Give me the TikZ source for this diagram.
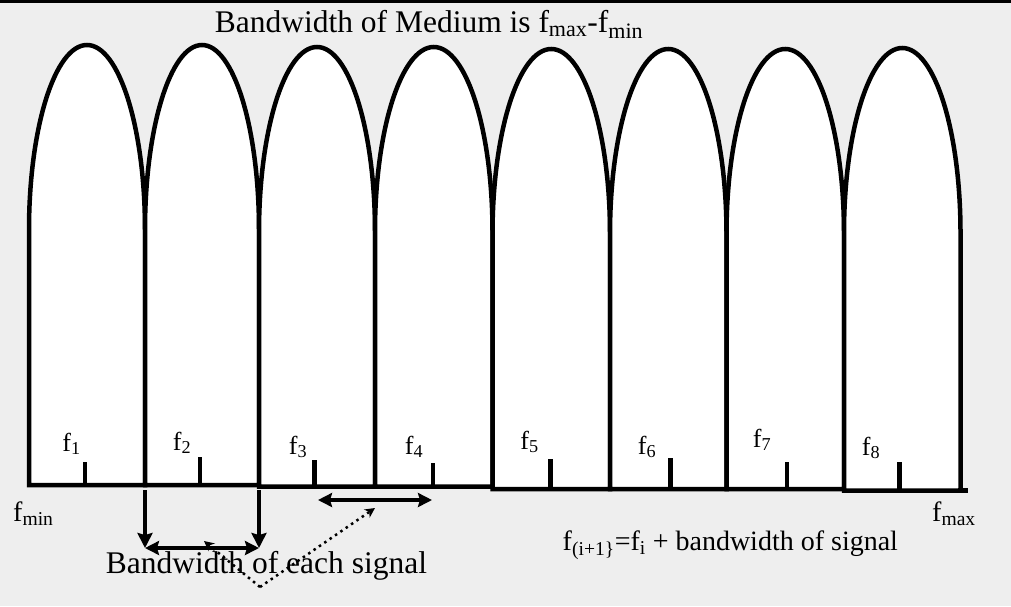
\documentclass[tikz,border=0pt]{standalone}
\usepackage{fontspec}
\setmainfont{Liberation Serif}
\usetikzlibrary{arrows.meta}
\definecolor{fondo}{HTML}{EEEEEE}

\tikzset{
	lobulo/.style={line width=4.5pt, draw=black, fill=white, line join=miter},
	marca/.style={line width=4.5pt},
	flecha/.style={line width=4.5pt, -{Stealth[length=15pt,width=15pt,inset=2pt]}},
	doble/.style={line width=4pt, {Stealth[length=14pt,width=14pt,inset=2pt]}-{Stealth[length=14pt,width=14pt,inset=2pt]}},
	punteada/.style={line width=2.5pt, dash pattern=on 2.5pt off 4pt, -{Stealth[length=10pt,width=10pt]}},
	etiq/.style={inner sep=0pt, anchor=base, font=\fontsize{26}{30}\selectfont},
	texto/.style={inner sep=0pt, font=\fontsize{28}{33}\selectfont},
	grande/.style={inner sep=0pt, anchor=base, font=\fontsize{31.5}{36}\selectfont}
}

\begin{document}
\begin{tikzpicture}[x=1pt,y=-1pt]
		% Fondo y linea superior
		\useasboundingbox (0,0) rectangle (1011,606);
		\fill[fondo] (0,0) rectangle (1011,606);
		\draw[line width=2.7pt] (0,1.3) -- (1011,1.3);
		
		% Lobulos de las senales (izq/der/cima/base/marca/etiqueta)
		\foreach \i/\xl/\xr/\yt/\yb/\tx/\tt/\lx/\ly in {
			1/29/145/45/485/85/462/71.5/451,
			2/145/259/45/485/200/457/182/450,
			3/259/375/47/486.5/314.5/460/298/454,
			4/375/492.5/47/486.5/433/462.5/414/454,
			5/492.5/610/49/489/550.5/459/529.5/449,
			6/610/726.5/49/489/670.5/458/647/454,
			7/726.5/844/49/489/787/461.5/762/447,
			8/844/960.5/48/490.5/899.5/461.5/871/455}{
			\pgfmathsetmacro\r{(\xr-\xl)/2}
			\pgfmathsetmacro\yc{\yt+185}
			\filldraw[lobulo] (\xl,\yb) -- (\xl,\yc)
				arc[start angle=180, end angle=360, x radius=\r, y radius=185]
				-- (\xr,\yb) -- cycle;
			\draw[marca] (\tx,\yb) -- (\tx,\tt);
			\node[etiq] (f\i) at (\lx,\ly) {f\textsubscript{\i}};
		}
		\draw[marca] (958,490.5) -- (968,490.5);
		
		% Flechas del ancho de banda
		\coordinate (b12) at (145,490);
		\coordinate (b23) at (259,490);
		\coordinate (p12) at (145,548);
		\coordinate (p23) at (259,548);
		\draw[flecha] (b12) -- (p12);
		\draw[flecha] (b23) -- (p23);
		\draw[doble] (p12) -- (p23);
		
		\coordinate (d1) at (318,500);
		\coordinate (d2) at (432,500);
		\draw[doble] (d1) -- (d2);
		
		% Lineas punteadas
		\coordinate (v) at (260,587);
		\coordinate (t1) at (204,541);
		\coordinate (t2) at (375,508);
		\draw[punteada] (v) -- (t1);
		\draw[punteada] (v) -- (t2);
		
		% Textos
		\node[grande] (titulo) at (429,32.3) {Bandwidth of Medium is f\textsubscript{max}-f\textsubscript{min}};
		\node[texto, anchor=base west] (fmin) at (13,521.5) {f\textsubscript{min}};
		\node[texto, anchor=base west] (fmax) at (932,521.5) {f\textsubscript{max}};
		\node[texto, anchor=base west] (formula) at (562.5,550) {f\textsubscript{(i+1\}}=f\textsubscript{i} + bandwidth of signal};
		\node[grande] (leyenda) at (266.5,573.3) {Bandwidth of each signal};
	\end{tikzpicture}
\end{document}
